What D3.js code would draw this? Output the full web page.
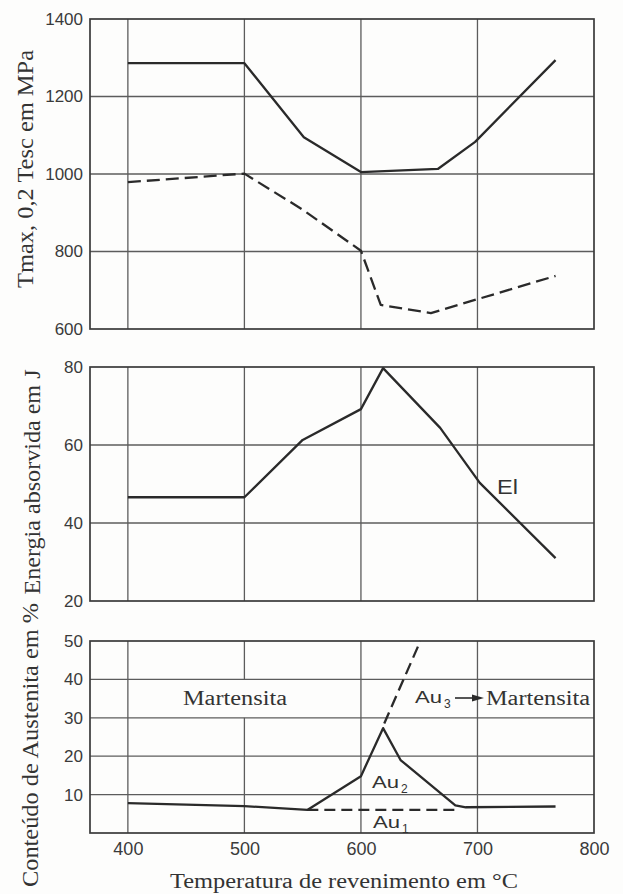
<!DOCTYPE html>
<html>
<head>
<meta charset="utf-8">
<script src="https://cdn.jsdelivr.net/npm/d3@7/dist/d3.min.js"></script>
<style>
  html, body { margin: 0; padding: 0; background: #fdfdfc; }
  svg { display: block; }
</style>
</head>
<body>
<svg id="chart" width="623" height="894"></svg>
<script>
// ---------- DATA ----------
const xTicks = [400, 500, 600, 700, 800];
const xGrid = [400, 500, 600, 700];

const strengthTicks = [600, 800, 1000, 1200, 1400];
const energyTicks = [20, 40, 60, 80];
const austeniteTicks = [10, 20, 30, 40, 50];

// Tmax (solid)
const tmaxT = [400, 500, 551, 600, 666, 698, 767];
const tmaxV = [1286, 1286, 1095, 1005, 1013, 1083, 1294];
// 0,2 Tesc (dashed)
const tescT = [400, 500, 550, 600, 617, 660, 767];
const tescV = [979, 1001, 908, 802, 662, 641, 737];

// Energia absorvida (El)
const energyT = [400, 500, 550, 600, 619, 668, 702, 767];
const energyV = [46.6, 46.6, 61.3, 69.2, 79.7, 64.4, 50.3, 31];

// Austenita: Au2 (solid), Au1 (dashed), Au3 (dashed)
const au2T = [400, 500, 554, 600, 619, 634, 681, 690, 767];
const au2V = [7.8, 7.0, 6.0, 14.8, 27.3, 19.0, 7.2, 6.7, 6.9];
const au1T = [554, 681];
const au1V = [6.0, 6.0];
const au3T = [620, 651];
const au3V = [28.5, 50];

// ---------- LAYOUT ----------
const svg = d3.select("#chart");
const left = 90, right = 594;
const x = d3.scaleLinear().domain([367.5, 800]).range([left, right]);

const ink = "#2a2a2a";
const gridCol = "#5c5c5c";
const tickFont = "'Liberation Sans', Arial, sans-serif";
const serif = "'Liberation Serif', 'Times New Roman', serif";

function pairs(ts, vs) { return ts.map((t, i) => [t, vs[i]]); }

function panel(cfg) {
  const y = d3.scaleLinear().domain(cfg.domain).range([cfg.bottom, cfg.top]);
  const g = svg.append("g");

  g.append("g").selectAll("line").data(cfg.ticks.filter(t => t !== cfg.domain[0] && t !== cfg.domain[1]))
    .join("line")
    .attr("x1", left).attr("x2", right)
    .attr("y1", d => y(d)).attr("y2", d => y(d))
    .attr("stroke", gridCol).attr("stroke-width", 1.3);

  xGrid.forEach(t => {
    const segs = (cfg.gaps && cfg.gaps[t]) ? cfg.gaps[t] : [cfg.domain];
    segs.forEach(s => {
      g.append("line")
        .attr("x1", x(t)).attr("x2", x(t))
        .attr("y1", y(s[0])).attr("y2", y(s[1]))
        .attr("stroke", gridCol).attr("stroke-width", 1.3);
    });
  });

  g.append("rect")
    .attr("x", left).attr("y", cfg.top)
    .attr("width", right - left).attr("height", cfg.bottom - cfg.top)
    .attr("fill", "none").attr("stroke", "#3a3a3a").attr("stroke-width", 1.7);

  const ax = g.append("g").attr("transform", `translate(${left},0)`)
    .call(d3.axisLeft(y).tickValues(cfg.ticks).tickSize(0).tickPadding(7).tickFormat(d3.format("d")));
  ax.select(".domain").remove();
  ax.selectAll("text").attr("font-family", tickFont).attr("font-size", 17).attr("fill", "#3a3a3a");

  svg.append("text")
    .attr("transform", `translate(${cfg.titleX},${cfg.titleY}) rotate(-90)`)
    .attr("text-anchor", "middle")
    .attr("font-family", serif).attr("font-size", 24).attr("fill", "#333")
    .attr("textLength", cfg.titleLen).attr("lengthAdjust", "spacingAndGlyphs")
    .text(cfg.title);
  return { g, y };
}

function drawLine(p, ts, vs, dash) {
  const line = d3.line().x(d => x(d[0])).y(d => p.y(d[1]));
  p.g.append("path")
    .datum(pairs(ts, vs))
    .attr("d", line)
    .attr("fill", "none")
    .attr("stroke", ink)
    .attr("stroke-width", 2.3)
    .attr("stroke-linejoin", "round")
    .attr("stroke-dasharray", dash || null);
}

// ---------- TOP PANEL ----------
const topPanel = panel({
  domain: [600, 1400], top: 19, bottom: 329, ticks: strengthTicks,
  title: "Tmax, 0,2 Tesc em MPa", titleX: 33, titleY: 169, titleLen: 238
});
drawLine(topPanel, tmaxT, tmaxV);
drawLine(topPanel, tescT, tescV, "13,6");

// ---------- MIDDLE PANEL ----------
const midPanel = panel({
  domain: [20, 80], top: 367, bottom: 601, ticks: energyTicks,
  title: "Energia absorvida em J", titleX: 40, titleY: 482, titleLen: 225
});
drawLine(midPanel, energyT, energyV);
midPanel.g.append("text")
  .attr("x", 497).attr("y", 494)
  .attr("font-family", tickFont).attr("font-size", 20).attr("fill", "#333")
  .attr("textLength", 21).attr("lengthAdjust", "spacingAndGlyphs")
  .text("El");

// ---------- BOTTOM PANEL ----------
const botPanel = panel({
  domain: [0, 50], top: 641, bottom: 833, ticks: austeniteTicks,
  title: "Conteúdo de Austenita em %", titleX: 38, titleY: 745, titleLen: 284,
  gaps: { 500: [[0, 30], [40, 50]] }
});
drawLine(botPanel, au2T, au2V);
drawLine(botPanel, au1T, au1V, "11,6");
drawLine(botPanel, au3T, au3V, "12,6");

const xa = svg.append("g").attr("transform", `translate(0,833)`)
  .call(d3.axisBottom(x).tickValues(xTicks).tickSize(0).tickPadding(9).tickFormat(d3.format("d")));
xa.select(".domain").remove();
xa.selectAll("text").attr("font-family", tickFont).attr("font-size", 18).attr("fill", "#3a3a3a");

svg.append("text")
  .attr("x", 344).attr("y", 888)
  .attr("text-anchor", "middle")
  .attr("font-family", serif).attr("font-size", 20).attr("fill", "#333")
  .attr("textLength", 348).attr("lengthAdjust", "spacingAndGlyphs")
  .text("Temperatura de revenimento em °C");

function serifLabel(xp, yp, txt, len) {
  svg.append("text").attr("x", xp).attr("y", yp)
    .attr("font-family", serif).attr("font-size", 20).attr("fill", "#333")
    .attr("textLength", len).attr("lengthAdjust", "spacingAndGlyphs")
    .text(txt);
}
serifLabel(183, 705, "Martensita", 104);
serifLabel(486, 705, "Martensita", 104);

function auLabel(xp, yp, sub) {
  const t = svg.append("text").attr("x", xp).attr("y", yp)
    .attr("font-family", tickFont).attr("font-size", 17).attr("fill", "#333");
  t.append("tspan").attr("textLength", 27).attr("lengthAdjust", "spacingAndGlyphs").text("Au");
  t.append("tspan").attr("dx", 2).attr("dy", 5).attr("font-size", 12).text(sub);
}
auLabel(415, 703, "3");
auLabel(372, 788, "2");
auLabel(373, 828, "1");

svg.append("line").attr("x1", 455).attr("x2", 474).attr("y1", 698).attr("y2", 698)
  .attr("stroke", ink).attr("stroke-width", 1.6);
svg.append("path").attr("d", "M472,694.5 L484,698 L472,701.5 Z").attr("fill", ink);
</script>
</body>
</html>
